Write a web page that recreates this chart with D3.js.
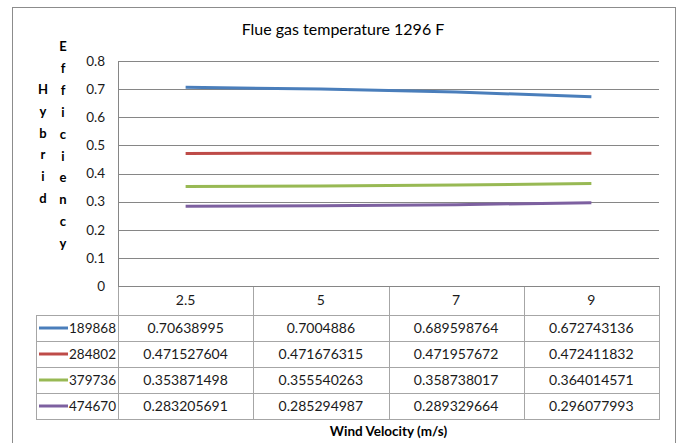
<!DOCTYPE html>
<html>
<head>
<meta charset="utf-8">
<script src="https://cdn.jsdelivr.net/npm/d3@7"></script>
<style>
  html, body { margin: 0; padding: 0; background: #fff; }
  svg { display: block; font-family: Lato, "Open Sans", sans-serif; }
</style>
</head>
<body>
<svg id="chart" width="680" height="443"></svg>
<script>
// Wind velocity categories (m/s)
const categories = ["2.5", "5", "7", "9"];
// Series names (legend keys)
const seriesNames = ["189868", "284802", "379736", "474670"];
// Hybrid efficiency per series, one value per wind velocity
const s189868 = [0.70638995, 0.7004886, 0.689598764, 0.672743136];
const s284802 = [0.471527604, 0.471676315, 0.471957672, 0.472411832];
const s379736 = [0.353871498, 0.355540263, 0.358738017, 0.364014571];
const s474670 = [0.283205691, 0.285294987, 0.289329664, 0.296077993];
const seriesValues = [s189868, s284802, s379736, s474670];
const seriesColors = ["#4a7ebb", "#be4b48", "#98b954", "#7d60a0"];
const yTicks = [0, 0.1, 0.2, 0.3, 0.4, 0.5, 0.6, 0.7, 0.8];

const titleText = "Flue gas temperature 1296 F";
const yTitleCol1 = "Hybrid";
const yTitleCol2 = "Efficiency";
const xTitleText = "Wind Velocity (m/s)";

const svg = d3.select("#chart");

// Chart frame
svg.append("rect")
  .attr("x", 12.5).attr("y", 7.5)
  .attr("width", 663).attr("height", 460)
  .attr("fill", "#fff").attr("stroke", "#8c8c8c").attr("stroke-width", 1);

const plot = { left: 118, right: 659, top: 61, bottom: 286 };

const x = d3.scaleBand().domain(categories).range([plot.left, plot.right]);
const y = d3.scaleLinear().domain([0, 0.8]).range([plot.bottom, plot.top]);

// Horizontal gridlines
svg.append("g")
  .selectAll("line")
  .data(yTicks.filter(t => t > 0))
  .join("line")
  .attr("x1", plot.left).attr("x2", plot.right)
  .attr("y1", d => Math.round(y(d)) + 0.5).attr("y2", d => Math.round(y(d)) + 0.5)
  .attr("stroke", "#868686").attr("stroke-width", 1);

// Value axis line
svg.append("line")
  .attr("x1", plot.left + 0.5).attr("x2", plot.left + 0.5)
  .attr("y1", plot.top).attr("y2", plot.bottom)
  .attr("stroke", "#868686");

// Y tick labels
const yAxis = d3.axisLeft(y).tickValues(yTicks).tickSize(0).tickPadding(13)
  .tickFormat(d => d === 0 ? "0" : d3.format(".1f")(d));
const yAxisG = svg.append("g").attr("transform", `translate(${plot.left},0)`).call(yAxis);
yAxisG.select(".domain").remove();
yAxisG.selectAll("text")
  .attr("font-family", "Lato, sans-serif")
  .attr("font-size", 13.5).attr("fill", "#1a1a1a");

// Y-axis title, stacked letters in two columns
function stackedLetters(word, cx, firstY, step) {
  svg.append("g").selectAll("text")
    .data(word.split(""))
    .join("text")
    .attr("x", cx)
    .attr("y", (d, i) => firstY + i * step)
    .attr("text-anchor", "middle")
    .attr("font-weight", "bold")
    .attr("font-size", 13)
    .attr("fill", "#000")
    .text(d => d);
}
stackedLetters(yTitleCol1, 43, 94, 21.8);
stackedLetters(yTitleCol2, 63, 51, 21.9);

// Title
svg.append("text")
  .attr("x", 343).attr("y", 35)
  .attr("text-anchor", "middle")
  .attr("font-size", 16).attr("fill", "#000")
  .text(titleText);

// Data table
const tableLeft = 36;
const headerTop = plot.bottom, headerBottom = 315;
const rowBand = d3.scaleBand().domain(seriesNames).range([headerBottom, 419]);
const tableColor = "#a6a6a6";
const tbl = svg.append("g");

// Column verticals
tbl.selectAll("line.hv")
  .data([plot.left].concat(categories.map(c => x(c) + x.bandwidth())))
  .join("line").attr("class", "hv")
  .attr("x1", d => Math.round(d) + 0.5).attr("x2", d => Math.round(d) + 0.5)
  .attr("y1", headerTop).attr("y2", 419)
  .attr("stroke", tableColor);
// Legend column left edge
tbl.append("line")
  .attr("x1", tableLeft + 0.5).attr("x2", tableLeft + 0.5)
  .attr("y1", headerBottom).attr("y2", 419)
  .attr("stroke", tableColor);
// Horizontal rules
tbl.selectAll("line.hr")
  .data(seriesNames.map(s => rowBand(s)).concat([419]))
  .join("line").attr("class", "hr")
  .attr("x1", tableLeft).attr("x2", plot.right + 1)
  .attr("y1", d => Math.round(d) + 0.5).attr("y2", d => Math.round(d) + 0.5)
  .attr("stroke", tableColor);
// Category axis line / header top
tbl.append("line")
  .attr("x1", plot.left).attr("x2", plot.right + 1)
  .attr("y1", headerTop + 0.5).attr("y2", headerTop + 0.5)
  .attr("stroke", "#868686");

// Category labels
tbl.selectAll("text.cat")
  .data(categories)
  .join("text").attr("class", "cat")
  .attr("x", d => x(d) + x.bandwidth() / 2)
  .attr("y", 305)
  .attr("text-anchor", "middle")
  .attr("font-size", 14).attr("fill", "#1a1a1a")
  .text(d => d);

// Value cells and legend keys
seriesNames.forEach((name, si) => {
  const cy = rowBand(name) + rowBand.bandwidth() / 2;
  tbl.selectAll(null)
    .data(seriesValues[si])
    .join("text")
    .attr("x", (d, i) => x(categories[i]) + x.bandwidth() / 2)
    .attr("y", cy + 5)
    .attr("text-anchor", "middle")
    .attr("font-size", 14).attr("fill", "#1a1a1a")
    .text(d => String(d));
  tbl.append("line")
    .attr("x1", 39).attr("x2", 68)
    .attr("y1", cy).attr("y2", cy)
    .attr("stroke", seriesColors[si]).attr("stroke-width", 3);
  tbl.append("text")
    .attr("x", 69).attr("y", cy + 5)
    .attr("font-size", 13.5).attr("fill", "#1a1a1a")
    .text(name);
});

// Series lines
const line = d3.line()
  .x((d, i) => x(categories[i]) + x.bandwidth() / 2)
  .y(d => y(d));
svg.append("g").selectAll("path")
  .data(seriesValues)
  .join("path")
  .attr("d", line)
  .attr("fill", "none")
  .attr("stroke", (d, i) => seriesColors[i])
  .attr("stroke-width", 3)
  .attr("stroke-linecap", "butt");

// Category axis title
svg.append("text")
  .attr("x", (plot.left + plot.right) / 2).attr("y", 436)
  .attr("text-anchor", "middle")
  .attr("font-weight", "bold").attr("font-size", 13.5).attr("fill", "#000")
  .text(xTitleText);
</script>
</body>
</html>
